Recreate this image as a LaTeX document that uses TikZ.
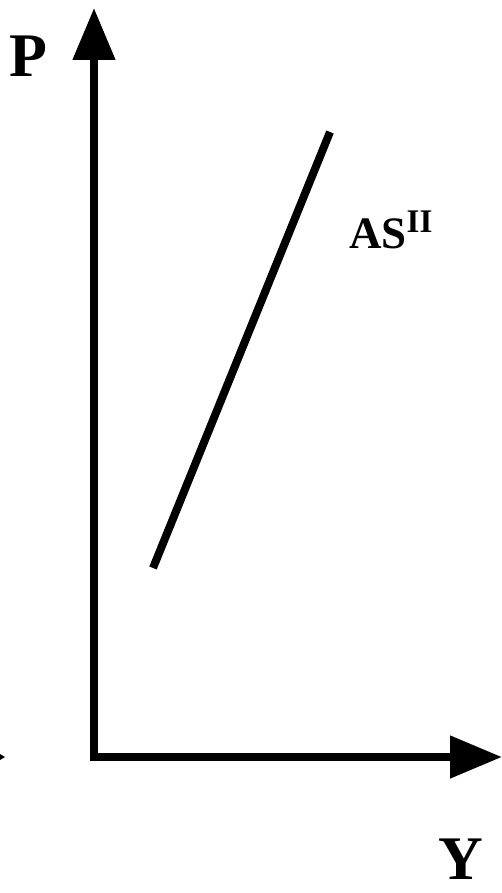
\documentclass[tikz,border=0pt]{standalone}
\usepackage{fontspec}
\setmainfont{Liberation Serif}
\usetikzlibrary{arrows.meta}
\tikzset{
  axisline/.style={line width=8pt,-{Triangle[length=52pt,width=41pt]}},
  curveline/.style={line width=8pt},
  axislabel/.style={font=\bfseries\fontsize{62}{62}\selectfont,inner sep=0pt,anchor=base}
}
\begin{document}
\begin{tikzpicture}[x=1pt,y=-1pt]
  \useasboundingbox (0,0) rectangle (502,893);
  % the two axes
  \coordinate (origin) at (94,757);
  \coordinate (ptip) at (94,8);
  \coordinate (ytip) at (502,757);
  \draw[axisline] (94,761) -- (ptip);
  \draw[axisline] (90,757) -- (ytip);
  \node[axislabel] (plabel) at (28,77) {P};
  \node[axislabel] (ylabel) at (461,879) {Y};
  % the supply line
  \coordinate (aslow) at (153,568);
  \coordinate (ashigh) at (330,132);
  \draw[curveline] (aslow) -- (ashigh);
  \node[font=\bfseries\fontsize{45}{45}\selectfont,inner sep=0pt,anchor=base west] (aslabel) at (349,248)
    {AS\raisebox{16pt}{\fontsize{33}{33}\selectfont II}};
  % clipped tip at the left edge
  \fill (0,754) -- (5,757) -- (0,760) -- cycle;
\end{tikzpicture}
\end{document}
